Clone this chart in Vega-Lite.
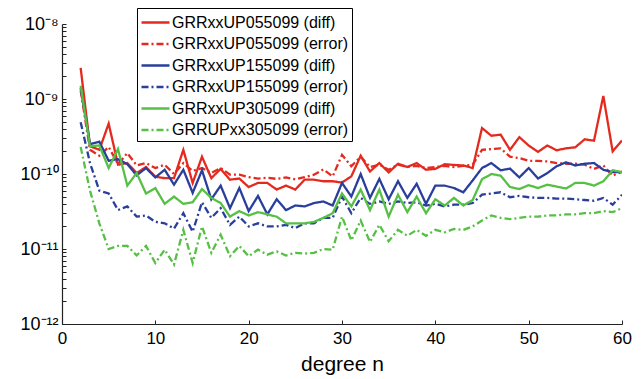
{
  "$schema": "https://vega.github.io/schema/vega-lite/v6.json",
  "autosize": {"type": "none"},
  "padding": {"left": 62, "top": 24, "right": 22, "bottom": 55},
  "width": 560,
  "height": 300,
  "background": "white",
  "config": {
    "view": {"stroke": null},
    "font": "Liberation Sans",
    "axis": {"domainColor": "#222", "domainWidth": 1.2, "tickColor": "#222", "tickWidth": 1, "labelColor": "black", "labelFont": "Liberation Sans", "titleFont": "Liberation Sans", "titleColor": "black", "grid": false, "labelFlush": false},
    "legend": {"strokeColor": "black", "fillColor": "white", "cornerRadius": 0}
  },
  "data": {
    "values": [
      {"n": 2, "GRRxxUP055099 (diff)": 2.6e-9, "GRRxxUP055099 (error)": 1.3e-9, "GRRxxUP155099 (diff)": 1.4e-9, "GRRxxUP155099 (error)": 4.9e-10, "GRRxxUP305099 (diff)": 1.5e-9, "GRRUPxx305099 (error)": 2.3e-10},
      {"n": 3, "GRRxxUP055099 (diff)": 2.35e-10, "GRRxxUP055099 (error)": 2.1e-10, "GRRxxUP155099 (diff)": 2.5e-10, "GRRxxUP155099 (error)": 1.4e-10, "GRRxxUP305099 (diff)": 2.35e-10, "GRRUPxx305099 (error)": 6e-11},
      {"n": 4, "GRRxxUP055099 (diff)": 2.1e-10, "GRRxxUP055099 (error)": 1.75e-10, "GRRxxUP155099 (diff)": 2.7e-10, "GRRxxUP155099 (error)": 6e-11, "GRRxxUP305099 (diff)": 2.4e-10, "GRRUPxx305099 (error)": 2.2e-11},
      {"n": 5, "GRRxxUP055099 (diff)": 4.7e-10, "GRRxxUP055099 (error)": 2.3e-10, "GRRxxUP155099 (diff)": 1.5e-10, "GRRxxUP155099 (error)": 5.5e-11, "GRRxxUP305099 (diff)": 1.2e-10, "GRRUPxx305099 (error)": 1.0e-11},
      {"n": 6, "GRRxxUP055099 (diff)": 1.33e-10, "GRRxxUP055099 (error)": 1.35e-10, "GRRxxUP155099 (diff)": 1.58e-10, "GRRxxUP155099 (error)": 3.3e-11, "GRRxxUP305099 (diff)": 2.15e-10, "GRRUPxx305099 (error)": 1.1e-11},
      {"n": 7, "GRRxxUP055099 (diff)": 1.4e-10, "GRRxxUP055099 (error)": 1.9e-10, "GRRxxUP155099 (diff)": 1.35e-10, "GRRxxUP155099 (error)": 3.7e-11, "GRRxxUP305099 (diff)": 7e-11, "GRRUPxx305099 (error)": 1.1e-11},
      {"n": 8, "GRRxxUP055099 (diff)": 1.03e-10, "GRRxxUP055099 (error)": 1.3e-10, "GRRxxUP155099 (diff)": 9.6e-11, "GRRxxUP155099 (error)": 2.7e-11, "GRRxxUP305099 (diff)": 1.03e-10, "GRRUPxx305099 (error)": 8.2e-12},
      {"n": 9, "GRRxxUP055099 (diff)": 1.24e-10, "GRRxxUP055099 (error)": 1.4e-10, "GRRxxUP155099 (diff)": 1.2e-10, "GRRxxUP155099 (error)": 2.8e-11, "GRRxxUP305099 (diff)": 5.5e-11, "GRRUPxx305099 (error)": 1.1e-11},
      {"n": 10, "GRRxxUP055099 (diff)": 9.2e-11, "GRRxxUP055099 (error)": 1.2e-10, "GRRxxUP155099 (diff)": 9e-11, "GRRxxUP155099 (error)": 2.3e-11, "GRRxxUP305099 (diff)": 6.5e-11, "GRRUPxx305099 (error)": 6.5e-12},
      {"n": 11, "GRRxxUP055099 (diff)": 8.8e-11, "GRRxxUP055099 (error)": 1.33e-10, "GRRxxUP155099 (diff)": 1.14e-10, "GRRxxUP155099 (error)": 2.2e-11, "GRRxxUP305099 (diff)": 4e-11, "GRRUPxx305099 (error)": 9.8e-12},
      {"n": 12, "GRRxxUP055099 (diff)": 8.8e-11, "GRRxxUP055099 (error)": 1e-10, "GRRxxUP155099 (diff)": 7.2e-11, "GRRxxUP155099 (error)": 1.87e-11, "GRRxxUP305099 (diff)": 5e-11, "GRRUPxx305099 (error)": 6.2e-12},
      {"n": 13, "GRRxxUP055099 (diff)": 2.1e-10, "GRRxxUP055099 (error)": 1.4e-10, "GRRxxUP155099 (diff)": 1.14e-10, "GRRxxUP155099 (error)": 3e-11, "GRRxxUP305099 (diff)": 4e-11, "GRRUPxx305099 (error)": 1.8e-11},
      {"n": 14, "GRRxxUP055099 (diff)": 7.6e-11, "GRRxxUP055099 (error)": 1.1e-10, "GRRxxUP155099 (diff)": 5.6e-11, "GRRxxUP155099 (error)": 1.7e-11, "GRRxxUP305099 (diff)": 4.2e-11, "GRRUPxx305099 (error)": 6.5e-12},
      {"n": 15, "GRRxxUP055099 (diff)": 1.7e-10, "GRRxxUP055099 (error)": 1.2e-10, "GRRxxUP155099 (diff)": 1.12e-10, "GRRxxUP155099 (error)": 4.2e-11, "GRRxxUP305099 (diff)": 6.3e-11, "GRRUPxx305099 (error)": 2e-11},
      {"n": 16, "GRRxxUP055099 (diff)": 8.8e-11, "GRRxxUP055099 (error)": 1.03e-10, "GRRxxUP155099 (diff)": 4.6e-11, "GRRxxUP155099 (error)": 2.6e-11, "GRRxxUP305099 (diff)": 4.8e-11, "GRRUPxx305099 (error)": 8.9e-12},
      {"n": 17, "GRRxxUP055099 (diff)": 1.17e-10, "GRRxxUP055099 (error)": 1.2e-10, "GRRxxUP155099 (diff)": 7e-11, "GRRxxUP155099 (error)": 3.5e-11, "GRRxxUP305099 (diff)": 4.1e-11, "GRRUPxx305099 (error)": 1.55e-11},
      {"n": 18, "GRRxxUP055099 (diff)": 8.4e-11, "GRRxxUP055099 (error)": 9.8e-11, "GRRxxUP155099 (diff)": 3.5e-11, "GRRxxUP155099 (error)": 2.1e-11, "GRRxxUP305099 (diff)": 2.7e-11, "GRRUPxx305099 (error)": 8e-12},
      {"n": 19, "GRRxxUP055099 (diff)": 8.7e-11, "GRRxxUP055099 (error)": 9.8e-11, "GRRxxUP155099 (diff)": 6.5e-11, "GRRxxUP155099 (error)": 2.7e-11, "GRRxxUP305099 (diff)": 3.2e-11, "GRRUPxx305099 (error)": 1.1e-11},
      {"n": 20, "GRRxxUP055099 (diff)": 6.7e-11, "GRRxxUP055099 (error)": 9.1e-11, "GRRxxUP155099 (diff)": 3.2e-11, "GRRxxUP155099 (error)": 2e-11, "GRRxxUP305099 (diff)": 2.8e-11, "GRRUPxx305099 (error)": 8e-12},
      {"n": 21, "GRRxxUP055099 (diff)": 7.6e-11, "GRRxxUP055099 (error)": 8.7e-11, "GRRxxUP155099 (diff)": 5.1e-11, "GRRxxUP155099 (error)": 2.2e-11, "GRRxxUP305099 (diff)": 3.1e-11, "GRRUPxx305099 (error)": 9.8e-12},
      {"n": 22, "GRRxxUP055099 (diff)": 7.6e-11, "GRRxxUP055099 (error)": 8.9e-11, "GRRxxUP155099 (diff)": 2.9e-11, "GRRxxUP155099 (error)": 2e-11, "GRRxxUP305099 (diff)": 2.9e-11, "GRRUPxx305099 (error)": 8.4e-12},
      {"n": 23, "GRRxxUP055099 (diff)": 6.2e-11, "GRRxxUP055099 (error)": 8.6e-11, "GRRxxUP155099 (diff)": 4.6e-11, "GRRxxUP155099 (error)": 2e-11, "GRRxxUP305099 (diff)": 2.7e-11, "GRRUPxx305099 (error)": 9.3e-12},
      {"n": 24, "GRRxxUP055099 (diff)": 7e-11, "GRRxxUP055099 (error)": 9e-11, "GRRxxUP155099 (diff)": 3.3e-11, "GRRxxUP155099 (error)": 2.1e-11, "GRRxxUP305099 (diff)": 2.2e-11, "GRRUPxx305099 (error)": 8.2e-12},
      {"n": 25, "GRRxxUP055099 (diff)": 6.2e-11, "GRRxxUP055099 (error)": 8.5e-11, "GRRxxUP155099 (diff)": 3.8e-11, "GRRxxUP155099 (error)": 1.9e-11, "GRRxxUP305099 (diff)": 2.2e-11, "GRRUPxx305099 (error)": 8.9e-12},
      {"n": 26, "GRRxxUP055099 (diff)": 8.4e-11, "GRRxxUP055099 (error)": 9.1e-11, "GRRxxUP155099 (diff)": 3.7e-11, "GRRxxUP155099 (error)": 2.2e-11, "GRRxxUP305099 (diff)": 2.2e-11, "GRRUPxx305099 (error)": 8.7e-12},
      {"n": 27, "GRRxxUP055099 (diff)": 8.4e-11, "GRRxxUP055099 (error)": 9.8e-11, "GRRxxUP155099 (diff)": 4.1e-11, "GRRxxUP155099 (error)": 2.2e-11, "GRRxxUP305099 (diff)": 2.3e-11, "GRRUPxx305099 (error)": 8.9e-12},
      {"n": 28, "GRRxxUP055099 (diff)": 8e-11, "GRRxxUP055099 (error)": 1.15e-10, "GRRxxUP155099 (diff)": 4.3e-11, "GRRxxUP155099 (error)": 2.6e-11, "GRRxxUP305099 (diff)": 2.6e-11, "GRRUPxx305099 (error)": 1e-11},
      {"n": 29, "GRRxxUP055099 (diff)": 8e-11, "GRRxxUP055099 (error)": 9.3e-11, "GRRxxUP155099 (diff)": 3.8e-11, "GRRxxUP155099 (error)": 2.6e-11, "GRRxxUP305099 (diff)": 3e-11, "GRRUPxx305099 (error)": 9.8e-12},
      {"n": 30, "GRRxxUP055099 (diff)": 7.7e-11, "GRRxxUP055099 (error)": 1.8e-10, "GRRxxUP155099 (diff)": 7.6e-11, "GRRxxUP155099 (error)": 5e-11, "GRRxxUP305099 (diff)": 5.5e-11, "GRRUPxx305099 (error)": 2.7e-11},
      {"n": 31, "GRRxxUP055099 (diff)": 9.3e-11, "GRRxxUP055099 (error)": 1.27e-10, "GRRxxUP155099 (diff)": 5e-11, "GRRxxUP155099 (error)": 3e-11, "GRRxxUP305099 (diff)": 3.7e-11, "GRRUPxx305099 (error)": 1.3e-11},
      {"n": 32, "GRRxxUP055099 (diff)": 1.75e-10, "GRRxxUP055099 (error)": 1.7e-10, "GRRxxUP155099 (diff)": 1e-10, "GRRxxUP155099 (error)": 4.8e-11, "GRRxxUP305099 (diff)": 6.2e-11, "GRRUPxx305099 (error)": 2.4e-11},
      {"n": 33, "GRRxxUP055099 (diff)": 1.08e-10, "GRRxxUP055099 (error)": 1.24e-10, "GRRxxUP155099 (diff)": 4.8e-11, "GRRxxUP155099 (error)": 4e-11, "GRRxxUP305099 (diff)": 3.3e-11, "GRRUPxx305099 (error)": 1.24e-11},
      {"n": 34, "GRRxxUP055099 (diff)": 1.4e-10, "GRRxxUP055099 (error)": 1.33e-10, "GRRxxUP155099 (diff)": 8.6e-11, "GRRxxUP155099 (error)": 4.3e-11, "GRRxxUP305099 (diff)": 6.2e-11, "GRRUPxx305099 (error)": 2.1e-11},
      {"n": 35, "GRRxxUP055099 (diff)": 1.05e-10, "GRRxxUP055099 (error)": 1.14e-10, "GRRxxUP155099 (diff)": 4.6e-11, "GRRxxUP155099 (error)": 4e-11, "GRRxxUP305099 (diff)": 2.7e-11, "GRRUPxx305099 (error)": 1.27e-11},
      {"n": 36, "GRRxxUP055099 (diff)": 1.37e-10, "GRRxxUP055099 (error)": 1.33e-10, "GRRxxUP155099 (diff)": 8e-11, "GRRxxUP155099 (error)": 4.3e-11, "GRRxxUP305099 (diff)": 5.3e-11, "GRRUPxx305099 (error)": 1.8e-11},
      {"n": 37, "GRRxxUP055099 (diff)": 1.24e-10, "GRRxxUP055099 (error)": 1.24e-10, "GRRxxUP155099 (diff)": 4.8e-11, "GRRxxUP155099 (error)": 4.1e-11, "GRRxxUP305099 (diff)": 3.1e-11, "GRRUPxx305099 (error)": 1.5e-11},
      {"n": 38, "GRRxxUP055099 (diff)": 1.4e-10, "GRRxxUP055099 (error)": 1.28e-10, "GRRxxUP155099 (diff)": 7.4e-11, "GRRxxUP155099 (error)": 4.2e-11, "GRRxxUP305099 (diff)": 5e-11, "GRRUPxx305099 (error)": 1.8e-11},
      {"n": 39, "GRRxxUP055099 (diff)": 1.14e-10, "GRRxxUP055099 (error)": 1.2e-10, "GRRxxUP155099 (diff)": 4e-11, "GRRxxUP155099 (error)": 3.8e-11, "GRRxxUP305099 (diff)": 3e-11, "GRRUPxx305099 (error)": 1.5e-11},
      {"n": 40, "GRRxxUP055099 (diff)": 1.17e-10, "GRRxxUP055099 (error)": 1.24e-10, "GRRxxUP155099 (diff)": 7e-11, "GRRxxUP155099 (error)": 4e-11, "GRRxxUP305099 (diff)": 4.6e-11, "GRRUPxx305099 (error)": 1.8e-11},
      {"n": 41, "GRRxxUP055099 (diff)": 1.35e-10, "GRRxxUP055099 (error)": 1.28e-10, "GRRxxUP155099 (diff)": 7e-11, "GRRxxUP155099 (error)": 3.7e-11, "GRRxxUP305099 (diff)": 3.8e-11, "GRRUPxx305099 (error)": 1.67e-11},
      {"n": 42, "GRRxxUP055099 (diff)": 1.32e-10, "GRRxxUP055099 (error)": 1.24e-10, "GRRxxUP155099 (diff)": 6.5e-11, "GRRxxUP155099 (error)": 3.9e-11, "GRRxxUP305099 (diff)": 4.8e-11, "GRRUPxx305099 (error)": 1.85e-11},
      {"n": 43, "GRRxxUP055099 (diff)": 1.3e-10, "GRRxxUP055099 (error)": 1.28e-10, "GRRxxUP155099 (diff)": 5.7e-11, "GRRxxUP155099 (error)": 3.9e-11, "GRRxxUP305099 (diff)": 3.8e-11, "GRRUPxx305099 (error)": 1.8e-11},
      {"n": 44, "GRRxxUP055099 (diff)": 1.2e-10, "GRRxxUP055099 (error)": 1.33e-10, "GRRxxUP155099 (diff)": 8.2e-11, "GRRxxUP155099 (error)": 4.1e-11, "GRRxxUP305099 (diff)": 4.5e-11, "GRRUPxx305099 (error)": 2e-11},
      {"n": 45, "GRRxxUP055099 (diff)": 4.1e-10, "GRRxxUP055099 (error)": 2.1e-10, "GRRxxUP155099 (diff)": 1.2e-10, "GRRxxUP155099 (error)": 5.3e-11, "GRRxxUP305099 (diff)": 8.5e-11, "GRRUPxx305099 (error)": 2.4e-11},
      {"n": 46, "GRRxxUP055099 (diff)": 3.24e-10, "GRRxxUP055099 (error)": 2.15e-10, "GRRxxUP155099 (diff)": 1.4e-10, "GRRxxUP155099 (error)": 5.5e-11, "GRRxxUP305099 (diff)": 1e-10, "GRRUPxx305099 (error)": 2.8e-11},
      {"n": 47, "GRRxxUP055099 (diff)": 3.35e-10, "GRRxxUP055099 (error)": 2.2e-10, "GRRxxUP155099 (diff)": 1.12e-10, "GRRxxUP155099 (error)": 5.7e-11, "GRRxxUP305099 (diff)": 9.5e-11, "GRRUPxx305099 (error)": 2.6e-11},
      {"n": 48, "GRRxxUP055099 (diff)": 2.1e-10, "GRRxxUP055099 (error)": 1.7e-10, "GRRxxUP155099 (diff)": 1.18e-10, "GRRxxUP155099 (error)": 4.9e-11, "GRRxxUP305099 (diff)": 6.7e-11, "GRRUPxx305099 (error)": 2.5e-11},
      {"n": 49, "GRRxxUP055099 (diff)": 3.1e-10, "GRRxxUP055099 (error)": 1.63e-10, "GRRxxUP155099 (diff)": 9e-11, "GRRxxUP155099 (error)": 5.1e-11, "GRRxxUP305099 (diff)": 6.3e-11, "GRRUPxx305099 (error)": 2.6e-11},
      {"n": 50, "GRRxxUP055099 (diff)": 2.4e-10, "GRRxxUP055099 (error)": 1.5e-10, "GRRxxUP155099 (diff)": 1.2e-10, "GRRxxUP155099 (error)": 4.9e-11, "GRRxxUP305099 (diff)": 7.1e-11, "GRRUPxx305099 (error)": 2.7e-11},
      {"n": 51, "GRRxxUP055099 (diff)": 1.97e-10, "GRRxxUP055099 (error)": 1.5e-10, "GRRxxUP155099 (diff)": 8.7e-11, "GRRxxUP155099 (error)": 4.8e-11, "GRRxxUP305099 (diff)": 6.5e-11, "GRRUPxx305099 (error)": 2.7e-11},
      {"n": 52, "GRRxxUP055099 (diff)": 2.4e-10, "GRRxxUP055099 (error)": 1.47e-10, "GRRxxUP155099 (diff)": 1.03e-10, "GRRxxUP155099 (error)": 4.8e-11, "GRRxxUP305099 (diff)": 7.2e-11, "GRRUPxx305099 (error)": 2.8e-11},
      {"n": 53, "GRRxxUP055099 (diff)": 2.07e-10, "GRRxxUP055099 (error)": 1.4e-10, "GRRxxUP155099 (diff)": 1.27e-10, "GRRxxUP155099 (error)": 4.7e-11, "GRRxxUP305099 (diff)": 6.8e-11, "GRRUPxx305099 (error)": 2.8e-11},
      {"n": 54, "GRRxxUP055099 (diff)": 2.2e-10, "GRRxxUP055099 (error)": 1.37e-10, "GRRxxUP155099 (diff)": 1.43e-10, "GRRxxUP155099 (error)": 4.7e-11, "GRRxxUP305099 (diff)": 6.4e-11, "GRRUPxx305099 (error)": 2.9e-11},
      {"n": 55, "GRRxxUP055099 (diff)": 2.27e-10, "GRRxxUP055099 (error)": 1.37e-10, "GRRxxUP155099 (diff)": 1.3e-10, "GRRxxUP155099 (error)": 4.6e-11, "GRRxxUP305099 (diff)": 7.6e-11, "GRRUPxx305099 (error)": 2.9e-11},
      {"n": 56, "GRRxxUP055099 (diff)": 2.9e-10, "GRRxxUP055099 (error)": 1.33e-10, "GRRxxUP155099 (diff)": 1.37e-10, "GRRxxUP155099 (error)": 4.5e-11, "GRRxxUP305099 (diff)": 7.6e-11, "GRRUPxx305099 (error)": 3e-11},
      {"n": 57, "GRRxxUP055099 (diff)": 2.78e-10, "GRRxxUP055099 (error)": 1.17e-10, "GRRxxUP155099 (diff)": 1.4e-10, "GRRxxUP155099 (error)": 4.4e-11, "GRRxxUP305099 (diff)": 7e-11, "GRRUPxx305099 (error)": 3e-11},
      {"n": 58, "GRRxxUP055099 (diff)": 1.1e-9, "GRRxxUP055099 (error)": 1.3e-10, "GRRxxUP155099 (diff)": 1.14e-10, "GRRxxUP155099 (error)": 4.8e-11, "GRRxxUP305099 (diff)": 8e-11, "GRRUPxx305099 (error)": 3.2e-11},
      {"n": 59, "GRRxxUP055099 (diff)": 2e-10, "GRRxxUP055099 (error)": 9.5e-11, "GRRxxUP155099 (diff)": 1.06e-10, "GRRxxUP155099 (error)": 3.9e-11, "GRRxxUP305099 (diff)": 1.12e-10, "GRRUPxx305099 (error)": 3.1e-11},
      {"n": 60, "GRRxxUP055099 (diff)": 2.8e-10, "GRRxxUP055099 (error)": 1.08e-10, "GRRxxUP155099 (diff)": 1.06e-10, "GRRxxUP155099 (error)": 5.3e-11, "GRRxxUP305099 (diff)": 1.06e-10, "GRRUPxx305099 (error)": 3.5e-11}
    ]
  },
  "transform": [
    {"fold": ["GRRxxUP055099 (diff)", "GRRxxUP055099 (error)", "GRRxxUP155099 (diff)", "GRRxxUP155099 (error)", "GRRxxUP305099 (diff)", "GRRUPxx305099 (error)"], "as": ["series", "value"]}
  ],
  "mark": {"type": "line", "strokeWidth": 2.3, "clip": true},
  "encoding": {
    "x": {
      "field": "n", "type": "quantitative",
      "scale": {"domain": [0, 60], "nice": false, "zero": false},
      "axis": {"values": [0, 10, 20, 30, 40, 50, 60], "title": "degree n", "titleFontSize": 21, "titleFontWeight": "normal", "titlePadding": 7, "labelFontSize": 17, "tickSize": -4, "labelPadding": 10}
    },
    "y": {
      "field": "value", "type": "quantitative",
      "scale": {"type": "log", "domain": [1e-12, 1e-8], "nice": false},
      "axis": {
        "title": null,
        "values": [1e-12, 2e-12, 3e-12, 4e-12, 5e-12, 6e-12, 7e-12, 8e-12, 9e-12, 1e-11, 2e-11, 3e-11, 4e-11, 5e-11, 6e-11, 7e-11, 8e-11, 9e-11, 1e-10, 2e-10, 3e-10, 4e-10, 5e-10, 6e-10, 7e-10, 8e-10, 9e-10, 1e-9, 2e-9, 3e-9, 4e-9, 5e-9, 6e-9, 7e-9, 8e-9, 9e-9, 1e-8],
        "labelExpr": "abs(datum.value/1e-8 - 1) < 0.01 ? '10⁻⁸' : abs(datum.value/1e-9 - 1) < 0.01 ? '10⁻⁹' : abs(datum.value/1e-10 - 1) < 0.01 ? '10⁻¹⁰' : abs(datum.value/1e-11 - 1) < 0.01 ? '10⁻¹¹' : abs(datum.value/1e-12 - 1) < 0.01 ? '10⁻¹²' : ''",
        "labelFontSize": 18,
        "labelPadding": 8,
        "tickSize": -4
      }
    },
    "color": {
      "field": "series", "type": "nominal",
      "scale": {
        "domain": ["GRRxxUP055099 (diff)", "GRRxxUP055099 (error)", "GRRxxUP155099 (diff)", "GRRxxUP155099 (error)", "GRRxxUP305099 (diff)", "GRRUPxx305099 (error)"],
        "range": ["#e42a1f", "#e42a1f", "#2a3f9c", "#2a3f9c", "#56c045", "#56c045"]
      },
      "legend": {
        "title": null, "orient": "none", "legendX": 75, "legendY": -16,
        "symbolType": "M-1.4,0L1.4,0", "symbolSize": 400, "symbolStrokeWidth": 2.5, "symbolOffset": 4,
        "labelFontSize": 16, "labelFont": "Liberation Sans", "labelColor": "black", "labelLimit": 400, "labelOffset": 5,
        "rowPadding": 1.5, "padding": 3
      }
    },
    "strokeDash": {
      "field": "series", "type": "nominal",
      "scale": {
        "domain": ["GRRxxUP055099 (diff)", "GRRxxUP055099 (error)", "GRRxxUP155099 (diff)", "GRRxxUP155099 (error)", "GRRxxUP305099 (diff)", "GRRUPxx305099 (error)"],
        "range": [[1, 0], [7, 3, 2, 3], [1, 0], [7, 3, 2, 3], [1, 0], [7, 3, 2, 3]]
      },
      "legend": {
        "title": null, "orient": "none", "legendX": 75, "legendY": -16,
        "symbolType": "M-1.4,0L1.4,0", "symbolSize": 400, "symbolStrokeWidth": 2.5, "symbolOffset": 4,
        "labelFontSize": 16, "labelFont": "Liberation Sans", "labelColor": "black", "labelLimit": 400, "labelOffset": 5,
        "rowPadding": 1.5, "padding": 3
      }
    }
  }
}
